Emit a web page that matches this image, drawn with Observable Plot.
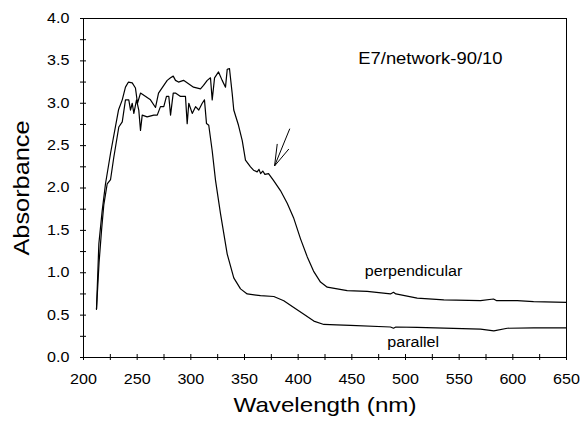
<!DOCTYPE html>
<html><head><meta charset="utf-8">
<script src="https://cdn.jsdelivr.net/npm/d3@7"></script>
<script src="https://cdn.jsdelivr.net/npm/@observablehq/plot@0.6"></script>
<style>
html,body{margin:0;padding:0;background:#fff;}
#chart svg{font-family:"Liberation Sans",Arial,sans-serif;display:block;}
</style></head><body><div id="chart"></div>
<script>
// Perpendicular polarisation spectrum (wavelength nm, absorbance)
const perpWl = [212.1,214.3,217.4,220.5,225.2,232.6,236.1,239.1,241.9,245.4,248.4,250.3,253.1,262.4,267.1,269.9,278.0,281.1,283.6,285.7,288.5,293.2,302.5,309.0,311.8,315.3,318.3,319.9,322.1,325.8,329.2,332.3,333.9,336.0,338.5,340.0,344.4,347.9,350.9,355.6,358.4,361.8,363.5,365.0,367.0,369.0,372.4,377.0,383.5,389.8,395.7,402.2,408.4,414.3,420.8,427.1,436.4,445.7,464.3,486.0,488.8,491.0,510.9,535.7,569.9,582.0,585.0,604.1,619.3,650.0];
const perpAbs = [0.57,1.34,1.73,2.05,2.41,2.92,3.04,3.19,3.25,3.24,3.18,3.00,3.12,3.04,2.95,3.12,3.27,3.30,3.32,3.27,3.25,3.27,3.19,3.17,3.21,3.27,3.30,3.04,3.30,3.37,3.27,3.19,3.40,3.41,3.12,2.92,2.74,2.56,2.33,2.25,2.21,2.19,2.22,2.17,2.20,2.16,2.17,2.09,1.97,1.82,1.65,1.40,1.19,1.02,0.89,0.83,0.81,0.79,0.78,0.75,0.77,0.75,0.70,0.68,0.67,0.69,0.67,0.67,0.66,0.65];
// Parallel polarisation spectrum
const paraWl = [212.1,214.5,216.8,218.9,222.1,225.2,228.2,232.9,236.1,239.1,242.2,243.8,245.4,246.9,249.4,251.5,253.1,254.7,259.3,265.5,268.7,271.7,274.8,277.3,279.5,281.1,283.6,285.7,290.4,295.0,296.6,298.1,301.3,304.4,307.4,310.6,312.7,314.6,316.7,319.9,323.0,327.6,333.9,340.0,346.3,352.5,364.9,377.3,386.6,395.9,405.3,414.6,423.9,435.7,448.8,486.0,488.8,491.0,510.9,569.9,582.3,594.8,619.6,650.0];
const paraAbs = [0.57,1.12,1.50,1.80,2.05,2.10,2.36,2.72,2.78,3.04,3.04,2.92,3.00,2.88,3.04,2.92,2.68,2.86,2.84,2.86,2.86,2.96,2.96,3.08,3.08,2.86,3.12,3.12,3.08,3.08,2.76,3.00,2.88,2.96,2.92,3.00,3.04,2.76,2.74,2.44,2.09,1.70,1.22,0.94,0.81,0.75,0.73,0.72,0.67,0.59,0.51,0.43,0.39,0.385,0.38,0.36,0.345,0.36,0.355,0.335,0.315,0.345,0.35,0.35];

// Axis ticks
const xTicks = [200,250,300,350,400,450,500,550,600,650];
const xMinor = [225,275,325,375,425,475,525,575,625];
const yTicks = [0,0.5,1,1.5,2,2.5,3,3.5,4];
const yMinor = [0.25,0.75,1.25,1.75,2.25,2.75,3.25,3.75];

// Annotations
const labelText = ["E7/network-90/10","perpendicular","parallel"];
const labelWl = [456,462,483];
const labelAbs = [3.52,1.02,0.175];
const labelSize = [16,14,14];

// Arrow (tip + three strokes)
const arrowTipWl = 378.0, arrowTipAbs = 2.26;
const arrowTailWl = [392.2,380.5,391.3];
const arrowTailAbs = [2.70,2.52,2.46];

const perp = perpWl.map((x,i)=>({x, y: perpAbs[i]}));
const para = paraWl.map((x,i)=>({x, y: paraAbs[i]}));
const labels = labelText.map((t,i)=>({t, x: labelWl[i], y: labelAbs[i], s: labelSize[i]}));
const arrow = arrowTailWl.map((w,i)=>({x1:w, y1:arrowTailAbs[i], x2:arrowTipWl, y2:arrowTipAbs}));
const xAll = [...xTicks, ...xMinor];
const yAll = [...yTicks, ...yMinor];

const plot = Plot.plot({
  width: 582, height: 424,
  marginLeft: 83, marginRight: 16, marginTop: 18, marginBottom: 67,
  style: {fontFamily: "Liberation Sans, Arial, sans-serif", fontSize: "14px", background: "#fff", color: "#000"},
  x: {domain: [200, 650]},
  y: {domain: [0, 4]},
  marks: [
    Plot.frame({stroke: "#000", strokeWidth: 1}),
    Plot.axisX(xAll, {tickSize: 3, tickPadding: 14, label: null, fontSize: 14,
      tickFormat: d => xTicks.includes(d) ? String(d) : ""}),
    Plot.axisX(xAll, {tickSize: -3, label: null, tickFormat: () => ""}),
    Plot.axisY(yAll, {tickSize: 3, tickPadding: 11, label: null, fontSize: 14,
      tickFormat: d => yTicks.includes(d) ? d3.format(".1f")(d) : ""}),
    Plot.axisY(yAll, {tickSize: -3, label: null, tickFormat: () => ""}),
    Plot.line(perp, {x: "x", y: "y", stroke: "#000", strokeWidth: 1.2}),
    Plot.line(para, {x: "x", y: "y", stroke: "#000", strokeWidth: 1.2}),
    Plot.link(arrow, {x1: "x1", y1: "y1", x2: "x2", y2: "y2", stroke: "#000", strokeWidth: 1}),
    Plot.text(labels, {x: "x", y: "y", text: "t", fontSize: "s", textAnchor: "start", lineAnchor: "middle", fill: "#000"}),
    Plot.text(["Wavelength (nm)"], {frameAnchor: "bottom", dy: 48, lineAnchor: "middle", fontSize: 21, fill: "#000"}),
    Plot.text(["Absorbance"], {frameAnchor: "left", dx: -62, rotate: -90, textAnchor: "middle", lineAnchor: "middle", fontSize: 22, fill: "#000"})
  ]
});
document.getElementById("chart").append(plot);
// widen glyphs slightly to match the reference's horizontally stretched type
plot.querySelectorAll("text").forEach(t => {
  if (!t.textContent) return;
  const L = t.getComputedTextLength();
  if (L > 0) {
    t.setAttribute("textLength", (L * 1.15).toFixed(1));
    t.setAttribute("lengthAdjust", "spacingAndGlyphs");
  }
});
</script>
</body></html>
